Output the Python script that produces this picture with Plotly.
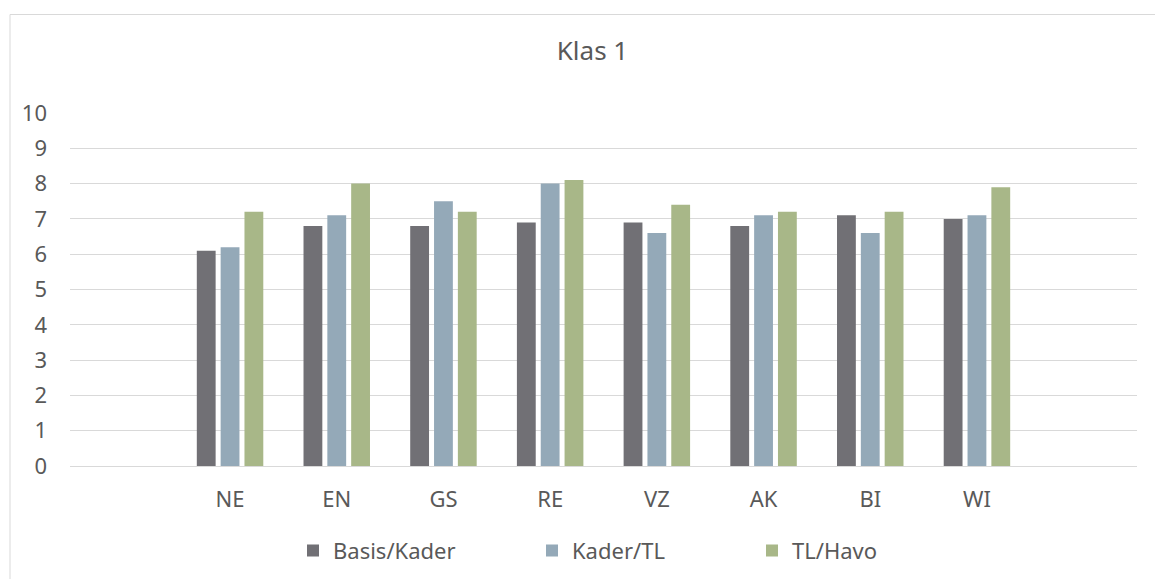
import plotly.graph_objects as go

# Data
subjects = ["NE", "EN", "GS", "RE", "VZ", "AK", "BI", "WI"]
basis_kader = [6.1, 6.8, 6.8, 6.9, 6.9, 6.8, 7.1, 7.0]
kader_tl = [6.2, 7.1, 7.5, 8.0, 6.6, 7.1, 6.6, 7.1]
tl_havo = [7.2, 8.0, 7.2, 8.1, 7.4, 7.2, 7.2, 7.9]
y_ticks = list(range(0, 11))

series = [
    ("Basis/Kader", basis_kader, "#717075", "legend"),
    ("Kader/TL", kader_tl, "#94A9B8", "legend2"),
    ("TL/Havo", tl_havo, "#A8B788", "legend3"),
]

FONT = "Noto Sans, Tahoma, sans-serif"
TEXT = "#595959"
GRID = "#d9d9d9"

# the page body adds an 8px offset, so the figure is sized and placed around it
W, H = 1155, 571
L, R, T, B = 62, 26, 105, 113
PW = W - L - R
PH = H - T - B

fig = go.Figure()

for name, values, color, legend in series:
    fig.add_trace(
        go.Bar(
            x=subjects,
            y=values,
            name=name,
            marker=dict(color=color, line=dict(width=0)),
            legend=legend,
            showlegend=True,
        )
    )

legend_style = dict(
    orientation="h",
    yanchor="middle",
    y=-0.24,
    xanchor="left",
    font=dict(family=FONT, size=22, color=TEXT),
    bgcolor="rgba(0,0,0,0)",
)

fig.update_layout(
    width=W,
    height=H,
    margin=dict(l=L, r=R, t=T, b=B, autoexpand=False),
    paper_bgcolor="white",
    plot_bgcolor="white",
    barmode="group",
    bargap=0.33,
    bargroupgap=0.21,
    showlegend=True,
    title=dict(
        text="Klas 1",
        x=(584.5 - L) / PW,
        xref="paper",
        xanchor="center",
        y=1 - 43 / H,
        yanchor="middle",
        font=dict(family=FONT, size=26, color=TEXT),
    ),
    legend=dict(legend_style, x=(285 - L) / PW),
    legend2=dict(legend_style, x=(524 - L) / PW),
    legend3=dict(legend_style, x=(744 - L) / PW),
    font=dict(family=FONT, color=TEXT),
)

fig.update_xaxes(
    type="category",
    categoryorder="array",
    categoryarray=subjects,
    range=[-1.5, len(subjects) + 0.5],
    showgrid=False,
    showline=False,
    ticks="",
    ticklabelstandoff=18,
    tickfont=dict(family=FONT, size=22, color=TEXT),
)

fig.update_yaxes(
    range=[0, 10],
    tickvals=y_ticks,
    showgrid=True,
    gridcolor=GRID,
    gridwidth=1,
    zeroline=True,
    zerolinecolor=GRID,
    zerolinewidth=1,
    showline=False,
    ticks="",
    ticklabelstandoff=22,
    tickfont=dict(family=FONT, size=22, color=TEXT),
)

# outer chart frame (cropped on the right and bottom in the reference)
fig.add_shape(
    type="rect",
    xref="paper",
    yref="paper",
    x0=(2 - L) / PW,
    x1=(1175 - L) / PW,
    y0=-(B + 40) / PH,
    y1=(PH + T - 6.5) / PH,
    line=dict(color=GRID, width=1),
    fillcolor="rgba(0,0,0,0)",
    layer="below",
)

fig.write_html("out.html")
